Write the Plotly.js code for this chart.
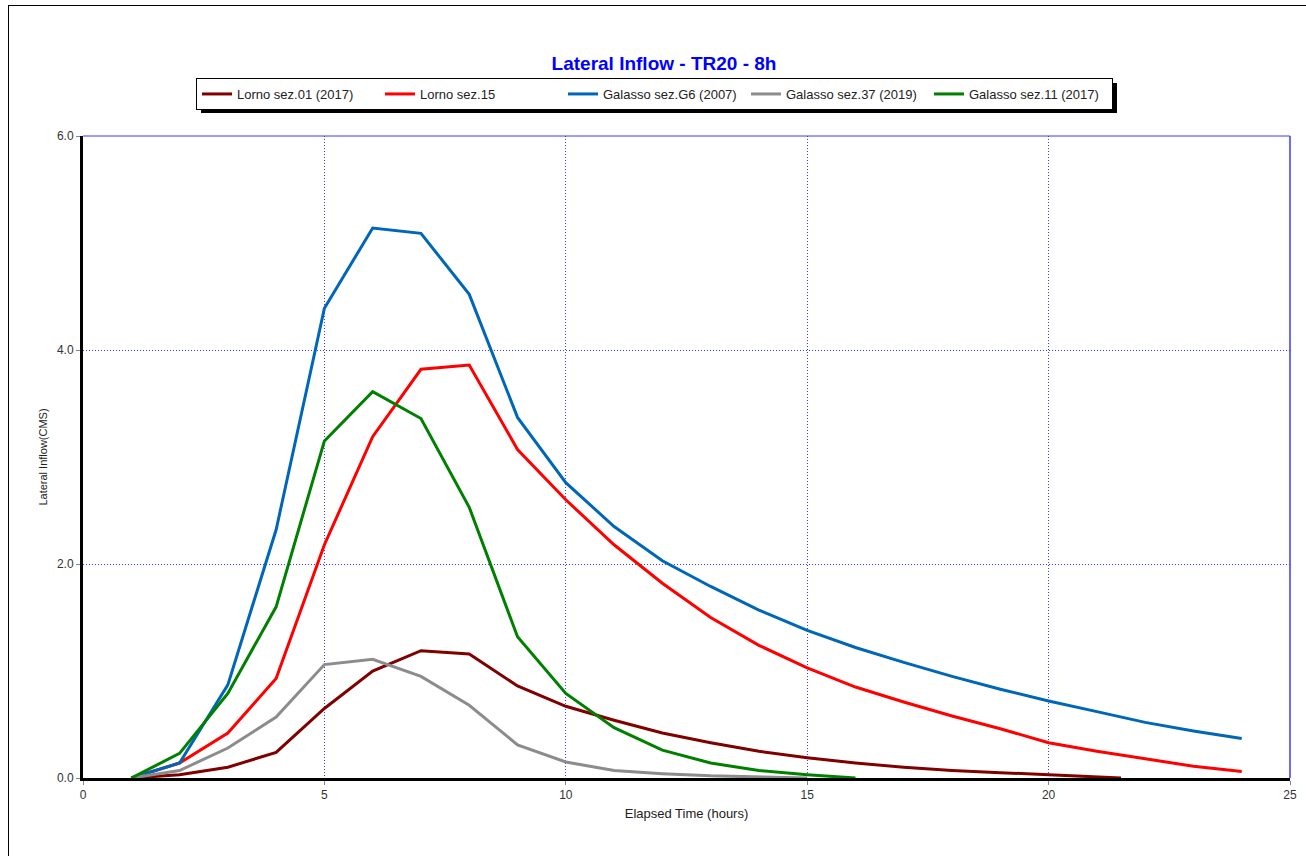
<!DOCTYPE html>
<html>
<head>
<meta charset="utf-8">
<script src="https://cdn.plot.ly/plotly-3.0.1.min.js"></script>
<style>
  html, body { margin: 0; padding: 0; background: #fff; }
  #frame { position: absolute; left: 8px; top: 5px; width: 1320px; height: 880px; border: 1.5px solid #000; }
  #chart { position: absolute; left: 0; top: 0; width: 1306px; height: 856px; }
</style>
</head>
<body>
<div id="frame"></div>
<div id="chart"></div>
<script>
// Elapsed time (hours) and lateral inflow (CMS) per section
const hours = [1, 2, 3, 4, 5, 6, 7, 8, 9, 10, 11, 12, 13, 14, 15, 16, 17, 18, 19, 20, 21, 22, 23, 24];

const lornoSez01 = [0, 0.03, 0.10, 0.24, 0.65, 1.00, 1.19, 1.16, 0.86, 0.67, 0.54, 0.42, 0.33, 0.25, 0.19, 0.14, 0.10, 0.07, 0.05, 0.03, 0.01];
const lornoSez15 = [0, 0.14, 0.42, 0.93, 2.18, 3.19, 3.82, 3.86, 3.07, 2.60, 2.18, 1.82, 1.50, 1.24, 1.03, 0.85, 0.71, 0.58, 0.46, 0.33, 0.25, 0.18, 0.11, 0.06];
const galassoG6  = [0, 0.14, 0.87, 2.32, 4.39, 5.14, 5.09, 4.52, 3.37, 2.76, 2.35, 2.03, 1.79, 1.57, 1.38, 1.22, 1.08, 0.95, 0.83, 0.72, 0.62, 0.52, 0.44, 0.37];
const galasso37  = [0, 0.07, 0.28, 0.57, 1.06, 1.11, 0.95, 0.68, 0.31, 0.15, 0.07, 0.04, 0.02, 0.01, 0];
const galasso11  = [0, 0.23, 0.79, 1.60, 3.15, 3.61, 3.36, 2.53, 1.32, 0.79, 0.47, 0.26, 0.14, 0.07, 0.03, 0];

// Series tails that reach zero between whole hours
const lornoSez01TailX = [21.5];
const lornoSez01TailY = [0];

const seriesNames = ['Lorno sez.01 (2017)', 'Lorno sez.15', 'Galasso sez.G6 (2007)', 'Galasso sez.37 (2019)', 'Galasso sez.11 (2017)'];
const seriesColors = ['#800000', '#ff0000', '#0066b8', '#8c8c8c', '#008000'];

const xTicks = [0, 5, 10, 15, 20, 25];
const yTicks = [0, 2, 4, 6];

// plot-area box in page pixels, used to place paper-referenced decorations
const L = 83, R = 1290, T = 136, B = 778;
const px = v => (v - L) / (R - L);
const py = v => (B - v) / (B - T);

const seriesData = [
  { x: hours.slice(0, lornoSez01.length).concat(lornoSez01TailX), y: lornoSez01.concat(lornoSez01TailY) },
  { x: hours.slice(0, lornoSez15.length), y: lornoSez15 },
  { x: hours.slice(0, galassoG6.length), y: galassoG6 },
  { x: hours.slice(0, galasso37.length), y: galasso37 },
  { x: hours.slice(0, galasso11.length), y: galasso11 }
];

const traces = seriesData.map((s, i) => ({
  type: 'scatter',
  mode: 'lines',
  x: s.x,
  y: s.y,
  name: seriesNames[i],
  line: { color: seriesColors[i], width: 3 },
  cliponaxis: true
}));

const FONT = 'Liberation Sans, Arial, sans-serif';
const tickFont = { family: FONT, size: 12, color: '#333' };

const layout = {
  width: 1306,
  height: 856,
  margin: { l: L, r: 1306 - R, t: T, b: 856 - B },
  paper_bgcolor: 'rgba(0,0,0,0)',
  plot_bgcolor: '#fff',
  font: { family: FONT, size: 11, color: '#222' },
  title: {
    text: '<b>Lateral Inflow - TR20 - 8h</b>',
    font: { family: FONT, size: 19, color: '#0000ff' },
    x: 664 / 1306,
    xanchor: 'center',
    y: 1 - 63 / 856,
    yanchor: 'middle'
  },
  showlegend: true,
  legend: {
    orientation: 'h',
    x: px(196),
    y: py(78),
    xanchor: 'left',
    yanchor: 'top',
    bgcolor: '#fff',
    bordercolor: '#000',
    borderwidth: 1,
    entrywidth: 138,
    entrywidthmode: 'pixels',
    font: { family: FONT, size: 13, color: '#222' },
    traceorder: 'normal'
  },
  xaxis: {
    range: [0, 25],
    tickvals: xTicks,
    ticktext: xTicks.map(String),
    tickfont: tickFont,
    ticks: 'outside',
    ticklen: 4,
    tickcolor: '#888',
    showgrid: true,
    gridcolor: '#3b3bff',
    griddash: '1px,2px',
    gridwidth: 1,
    zeroline: false,
    showline: true,
    linecolor: '#000',
    linewidth: 3,
    title: { text: 'Elapsed Time (hours)', font: { size: 13, color: '#222' }, standoff: 8 },
    fixedrange: true
  },
  yaxis: {
    range: [0, 6],
    tickvals: yTicks,
    ticktext: yTicks.map(v => v.toFixed(1)),
    tickfont: tickFont,
    ticks: 'outside',
    ticklen: 4,
    tickcolor: '#888',
    showgrid: true,
    gridcolor: '#3b3bff',
    griddash: '1px,2px',
    gridwidth: 1,
    zeroline: false,
    showline: true,
    linecolor: '#000',
    linewidth: 3,
    title: { text: 'Lateral Inflow(CMS)', font: { size: 11, color: '#222' }, standoff: 8 },
    fixedrange: true
  },
  shapes: [
    // legend drop shadow
    {
      type: 'rect', xref: 'paper', yref: 'paper', layer: 'below',
      x0: px(201), x1: px(1117), y0: py(113), y1: py(83),
      fillcolor: '#000', line: { width: 0 }
    },
    // thin blue frame on the top and right sides of the plot area
    {
      type: 'line', xref: 'paper', yref: 'paper', layer: 'above',
      x0: 0, x1: 1, y0: 1, y1: 1, line: { color: '#3a3aff', width: 1 }
    },
    {
      type: 'line', xref: 'paper', yref: 'paper', layer: 'above',
      x0: 1, x1: 1, y0: 0, y1: 1, line: { color: '#3a3aff', width: 1.5 }
    }
  ]
};

Plotly.newPlot('chart', traces, layout, { displayModeBar: false, staticPlot: true });
</script>
</body>
</html>
